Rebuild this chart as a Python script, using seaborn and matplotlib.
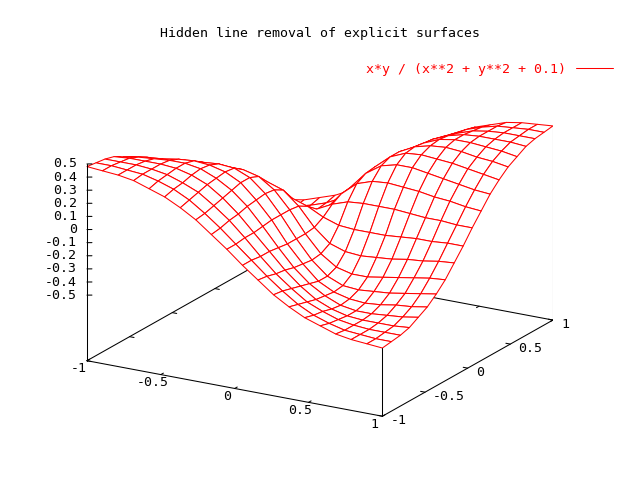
import numpy as np
import seaborn as sns
import matplotlib
matplotlib.use("Agg")
import matplotlib.pyplot as plt
from matplotlib.lines import Line2D

sns.set_theme(style="white")
plt.rcParams['font.family'] = ['DejaVu Sans Mono', 'DejaVu Sans']

title = "Hidden line removal of explicit surfaces"
series_label = "x*y / (x**2 + y**2 + 0.1)"

# 20 x 20 isosamples over [-1, 1]
xs = [-1.000, -0.895, -0.789, -0.684, -0.579, -0.474, -0.368, -0.263, -0.158, -0.053,
      0.053, 0.158, 0.263, 0.368, 0.474, 0.579, 0.684, 0.789, 0.895, 1.000]
ys = [-1.000, -0.895, -0.789, -0.684, -0.579, -0.474, -0.368, -0.263, -0.158, -0.053,
      0.053, 0.158, 0.263, 0.368, 0.474, 0.579, 0.684, 0.789, 0.895, 1.000]

# surface heights, one row per y value
z_rows = [
    [0.48, 0.47, 0.46, 0.44, 0.40, 0.36, 0.30, 0.23, 0.14, 0.05, -0.05, -0.14, -0.23, -0.30, -0.36, -0.40, -0.44, -0.46, -0.47, -0.48],
    [0.47, 0.47, 0.46, 0.45, 0.42, 0.38, 0.32, 0.24, 0.15, 0.05, -0.05, -0.15, -0.24, -0.32, -0.38, -0.42, -0.45, -0.46, -0.47, -0.47],
    [0.46, 0.46, 0.46, 0.45, 0.43, 0.39, 0.34, 0.26, 0.17, 0.06, -0.06, -0.17, -0.26, -0.34, -0.39, -0.43, -0.45, -0.46, -0.46, -0.46],
    [0.44, 0.45, 0.45, 0.45, 0.44, 0.41, 0.36, 0.28, 0.18, 0.06, -0.06, -0.18, -0.28, -0.36, -0.41, -0.44, -0.45, -0.45, -0.45, -0.44],
    [0.40, 0.42, 0.43, 0.44, 0.44, 0.42, 0.37, 0.30, 0.20, 0.07, -0.07, -0.20, -0.30, -0.37, -0.42, -0.44, -0.44, -0.43, -0.42, -0.40],
    [0.36, 0.38, 0.39, 0.41, 0.42, 0.41, 0.38, 0.32, 0.21, 0.08, -0.08, -0.21, -0.32, -0.38, -0.41, -0.42, -0.41, -0.39, -0.38, -0.36],
    [0.30, 0.32, 0.34, 0.36, 0.37, 0.38, 0.37, 0.32, 0.22, 0.08, -0.08, -0.22, -0.32, -0.37, -0.38, -0.37, -0.36, -0.34, -0.32, -0.30],
    [0.23, 0.24, 0.26, 0.28, 0.30, 0.32, 0.32, 0.29, 0.21, 0.08, -0.08, -0.21, -0.29, -0.32, -0.32, -0.30, -0.28, -0.26, -0.24, -0.23],
    [0.14, 0.15, 0.17, 0.18, 0.20, 0.21, 0.22, 0.21, 0.17, 0.07, -0.07, -0.17, -0.21, -0.22, -0.21, -0.20, -0.18, -0.17, -0.15, -0.14],
    [0.05, 0.05, 0.06, 0.06, 0.07, 0.08, 0.08, 0.08, 0.07, 0.03, -0.03, -0.07, -0.08, -0.08, -0.08, -0.07, -0.06, -0.06, -0.05, -0.05],
    [-0.05, -0.05, -0.06, -0.06, -0.07, -0.08, -0.08, -0.08, -0.07, -0.03, 0.03, 0.07, 0.08, 0.08, 0.08, 0.07, 0.06, 0.06, 0.05, 0.05],
    [-0.14, -0.15, -0.17, -0.18, -0.20, -0.21, -0.22, -0.21, -0.17, -0.07, 0.07, 0.17, 0.21, 0.22, 0.21, 0.20, 0.18, 0.17, 0.15, 0.14],
    [-0.23, -0.24, -0.26, -0.28, -0.30, -0.32, -0.32, -0.29, -0.21, -0.08, 0.08, 0.21, 0.29, 0.32, 0.32, 0.30, 0.28, 0.26, 0.24, 0.23],
    [-0.30, -0.32, -0.34, -0.36, -0.37, -0.38, -0.37, -0.32, -0.22, -0.08, 0.08, 0.22, 0.32, 0.37, 0.38, 0.37, 0.36, 0.34, 0.32, 0.30],
    [-0.36, -0.38, -0.39, -0.41, -0.42, -0.41, -0.38, -0.32, -0.21, -0.08, 0.08, 0.21, 0.32, 0.38, 0.41, 0.42, 0.41, 0.39, 0.38, 0.36],
    [-0.40, -0.42, -0.43, -0.44, -0.44, -0.42, -0.37, -0.30, -0.20, -0.07, 0.07, 0.20, 0.30, 0.37, 0.42, 0.44, 0.44, 0.43, 0.42, 0.40],
    [-0.44, -0.45, -0.45, -0.45, -0.44, -0.41, -0.36, -0.28, -0.18, -0.06, 0.06, 0.18, 0.28, 0.36, 0.41, 0.44, 0.45, 0.45, 0.45, 0.44],
    [-0.46, -0.46, -0.46, -0.45, -0.43, -0.39, -0.34, -0.26, -0.17, -0.06, 0.06, 0.17, 0.26, 0.34, 0.39, 0.43, 0.45, 0.46, 0.46, 0.46],
    [-0.47, -0.47, -0.46, -0.45, -0.42, -0.38, -0.32, -0.24, -0.15, -0.05, 0.05, 0.15, 0.24, 0.32, 0.38, 0.42, 0.45, 0.46, 0.47, 0.47],
    [-0.48, -0.47, -0.46, -0.44, -0.40, -0.36, -0.30, -0.23, -0.14, -0.05, 0.05, 0.14, 0.23, 0.30, 0.36, 0.40, 0.44, 0.46, 0.47, 0.48],
]

x_ticks = [-1, -0.5, 0, 0.5, 1]
y_ticks = [-1, -0.5, 0, 0.5, 1]
z_ticks = [-0.5, -0.4, -0.3, -0.2, -0.1, 0, 0.1, 0.2, 0.3, 0.4, 0.5]
z_base = -1.0   # gnuplot ticslevel 0.5 puts the base half a z-range below
z_top = 0.5

fig = plt.figure(figsize=(6.4, 4.8), dpi=100)
ax = fig.add_axes([-0.0102, -0.0177, 1, 1], projection='3d', computed_zorder=False)
ax.set_proj_type('ortho')
ax.view_init(elev=19, azim=-60)
ax.set_box_aspect((1, 1, 0.61), zoom=1.0625)
ax.set_xlim(-1, 1)
ax.set_ylim(-1, 1)
ax.set_zlim(z_base, z_top)
ax.set_axis_off()

X, Y = np.meshgrid(xs, ys)
Z = np.array(z_rows)
x0, x1 = xs[0], xs[-1]
y0, y1 = ys[0], ys[-1]
k = dict(color='black', lw=0.75)

# back part of the box (hidden by the surface)
ax.plot([x0, x0], [y0, y1], [z_base, z_base], zorder=1, **k)
ax.plot([x0, x1], [y1, y1], [z_base, z_base], zorder=1, **k)
ax.plot([x0, x0], [y1, y1], [z_base, Z[-1][0]], zorder=1, **k)
ax.plot([x1, x1], [y1, y1], [z_base, Z[-1][-1]], zorder=1, **k)
tl = 0.03
for t in y_ticks:
    ax.plot([x0, x0 + tl], [t, t], [z_base, z_base], zorder=1, **k)
for t in x_ticks:
    ax.plot([t, t], [y1, y1 - tl], [z_base, z_base], zorder=1, **k)

ax.plot_surface(X, Y, Z, rstride=1, cstride=1, color='white', edgecolor='red',
                linewidth=0.75, shade=False, zorder=2)

# front part of the box
ax.plot([x0, x1], [y0, y0], [z_base, z_base], zorder=3, **k)
ax.plot([x1, x1], [y0, y1], [z_base, z_base], zorder=3, **k)
ax.plot([x0, x0], [y0, y0], [z_base, z_top], zorder=3, **k)
ax.plot([x1, x1], [y0, y0], [z_base, Z[0][-1]], zorder=3, **k)

# tick labels go on as 2D annotations at the projected tick positions
M = ax.get_proj()


def to2d(x, y, z):
    v = M @ np.array([x, y, z, 1.0])
    return v[0] / v[3], v[1] / v[3]


def label(s, pos, off, ha):
    ax.annotate(s, xy=to2d(*pos), xycoords='data', xytext=off,
                textcoords='offset pixels', ha=ha, va='center',
                fontsize=9.5, color='black', annotation_clip=False)


for t in x_ticks:
    ax.plot([t, t], [y0, y0 + tl], [z_base, z_base], zorder=3, **k)
    label('%g' % t, (t, y0, z_base), (-8, -8), 'center')
for t in y_ticks:
    ax.plot([x1, x1 - tl], [t, t], [z_base, z_base], zorder=3, **k)
    label('%g' % t, (x1, t, z_base), (8, -4), 'left')
for t in z_ticks:
    ax.plot([x0, x0 + 0.025], [y0, y0 + 0.015], [t, t], zorder=3, **k)
    label('%g' % t, (x0, y0, t), (-10, 0), 'right')

fig.text(0.5, 1 - 33 / 480, title, ha='center', va='center', fontsize=9.5, color='black')
ax.legend(handles=[Line2D([], [], color='red', lw=0.75)], labels=[series_label],
          loc='center right', bbox_to_anchor=(613 / 640, 1 - 69 / 480),
          bbox_transform=fig.transFigure, frameon=False, markerfirst=False,
          handlelength=2.8, handletextpad=0.75, borderpad=0, borderaxespad=0,
          labelcolor='red', prop={'size': 9.5})

fig.savefig('out.png', dpi=100, facecolor='white')
